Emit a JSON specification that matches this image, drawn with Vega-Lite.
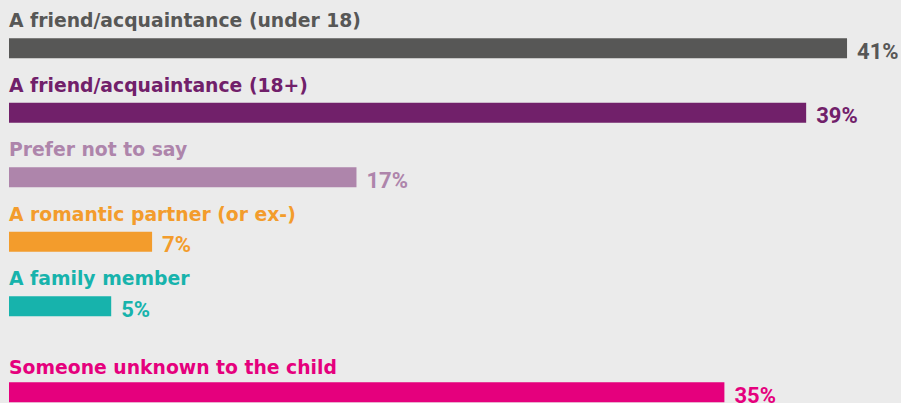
{
  "$schema": "https://vega.github.io/schema/vega-lite/v6.json",
  "background": "#ebebeb",
  "padding": {"left": 9, "top": 12, "right": 0, "bottom": 0},
  "spacing": 20,
  "config": {"view": {"stroke": null}},
  "datasets": {
    "rows": [
      {"category": "A friend/acquaintance (under 18)", "value": 0.41, "group": "known"},
      {"category": "A friend/acquaintance (18+)", "value": 0.39, "group": "known"},
      {"category": "Prefer not to say", "value": 0.17, "group": "known"},
      {"category": "A romantic partner (or ex-)", "value": 0.07, "group": "known"},
      {"category": "A family member", "value": 0.05, "group": "known"},
      {"category": "Someone unknown to the child", "value": 0.35, "group": "unknown"}
    ]
  },
  "vconcat": [
    {
      "width": 892,
      "height": {"step": 64.5},
      "data": {"name": "rows"},
      "transform": [{"filter": "datum.group == 'known'"}],
      "encoding": {
        "y": {"field": "category", "type": "nominal", "sort": null, "axis": null, "scale": {"paddingInner": 0, "paddingOuter": 0}},
        "color": {"field": "category", "type": "nominal", "legend": null,
          "scale": {"domain": ["A friend/acquaintance (under 18)", "A friend/acquaintance (18+)", "Prefer not to say", "A romantic partner (or ex-)", "A family member", "Someone unknown to the child"],
                    "range": ["#575756", "#71206a", "#ae85ab", "#f39c2c", "#17b3ac", "#e5007d"]}}
      },
      "layer": [
        {"mark": {"type": "bar", "size": 20},
         "encoding": {"x": {"field": "value", "type": "quantitative", "scale": {"domain": [0, 0.4364], "nice": false}, "axis": null}}},
        {"mark": {"type": "text", "align": "left", "baseline": "alphabetic", "dy": -21, "font": "DejaVu Sans", "fontWeight": "bold", "fontSize": 18.8},
         "encoding": {"x": {"datum": 0, "type": "quantitative"}, "text": {"field": "category"}}},
        {"mark": {"type": "text", "align": "left", "baseline": "alphabetic", "dx": 10, "dy": 10.5, "font": "Roboto", "fontWeight": "bold", "fontSize": 22},
         "encoding": {"x": {"field": "value", "type": "quantitative"}, "text": {"field": "value", "format": ".0%"}}}
      ]
    },
    {
      "width": 892,
      "height": {"step": 64.5},
      "data": {"name": "rows"},
      "transform": [{"filter": "datum.group == 'unknown'"}],
      "encoding": {
        "y": {"field": "category", "type": "nominal", "sort": null, "axis": null, "scale": {"paddingInner": 0, "paddingOuter": 0}},
        "color": {"field": "category", "type": "nominal", "legend": null,
          "scale": {"domain": ["A friend/acquaintance (under 18)", "A friend/acquaintance (18+)", "Prefer not to say", "A romantic partner (or ex-)", "A family member", "Someone unknown to the child"],
                    "range": ["#575756", "#71206a", "#ae85ab", "#f39c2c", "#17b3ac", "#e5007d"]}}
      },
      "layer": [
        {"mark": {"type": "bar", "size": 20},
         "encoding": {"x": {"field": "value", "type": "quantitative", "scale": {"domain": [0, 0.4364], "nice": false}, "axis": null}}},
        {"mark": {"type": "text", "align": "left", "baseline": "alphabetic", "dy": -18, "font": "DejaVu Sans", "fontWeight": "bold", "fontSize": 18.8},
         "encoding": {"x": {"datum": 0, "type": "quantitative"}, "text": {"field": "category"}}},
        {"mark": {"type": "text", "align": "left", "baseline": "alphabetic", "dx": 10, "dy": 10.5, "font": "Roboto", "fontWeight": "bold", "fontSize": 22},
         "encoding": {"x": {"field": "value", "type": "quantitative"}, "text": {"field": "value", "format": ".0%"}}}
      ]
    }
  ]
}
